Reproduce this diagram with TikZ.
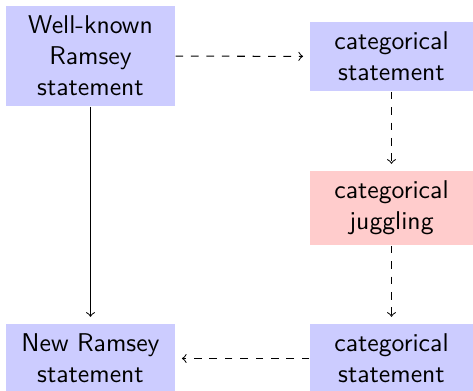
\documentclass[tikz,border=0pt]{standalone}
\usepackage{tikz}

\begin{document}
\begin{tikzpicture}[x=1.368cm, y=1.368cm, every node/.style={font=\sffamily}]
\tikzset{
  ramseybox/.style={fill=blue!20, align=center, inner ysep=4pt, minimum width=1.69*1.368cm},
  catbox/.style={fill=blue!20, align=center, inner ysep=4pt, minimum width=1.63*1.368cm},
  jugglebox/.style={catbox, fill=red!20},
  catarrow/.style={->, dashed, shorten >=2.5pt},
}
\useasboundingbox (0,0) rectangle (4.73,3.91);

% left column
\node[ramseybox] (known) at (0.905,3.35) {Well-known\\Ramsey\\statement};
\node[ramseybox] (new) at (0.905,0.325) {New Ramsey\\statement};

% right column
\node[catbox] (cattop) at (3.915,3.345) {categorical\\statement};
\node[jugglebox] (juggle) at (3.915,1.83) {categorical\\juggling};
\node[catbox] (catbot) at (3.915,0.325) {categorical\\statement};

% arrows
\draw[catarrow] (known) -- (cattop);
\draw[catarrow] (cattop) -- (juggle);
\draw[catarrow] (juggle) -- (catbot);
\draw[catarrow] (catbot) -- (new);
\draw[->, shorten >=2.5pt] (known) -- (new);
\end{tikzpicture}
\end{document}
